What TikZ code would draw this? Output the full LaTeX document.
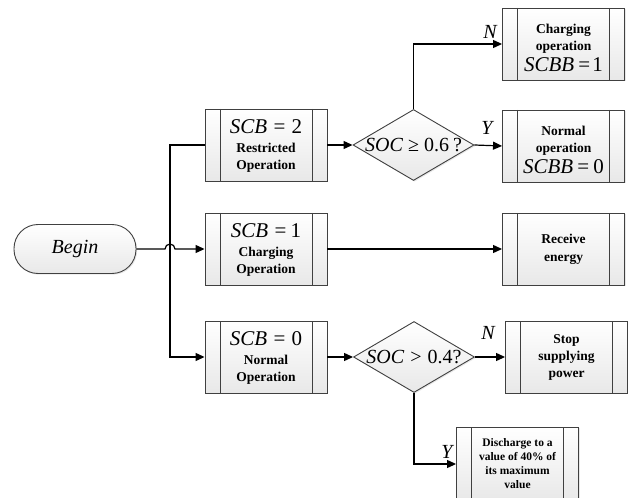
\documentclass[tikz,border=0pt]{standalone}
\usepackage{fontspec}
\setmainfont{Liberation Serif}
\usetikzlibrary{arrows.meta,shapes.geometric,shadows}
\newcommand\boldtext{\fontsize{13.5bp}{17bp}\selectfont\bfseries\lineskiplimit=-100pt\relax}
\newcommand\smalltext{\fontsize{11.5bp}{14bp}\selectfont\bfseries\lineskiplimit=-100pt\relax}
\newcommand\eqfont{\fontsize{20bp}{20bp}\selectfont}
\newcommand\eqn[1]{{\normalfont\fontsize{21bp}{21bp}\selectfont #1}}
\begin{document}
\begin{tikzpicture}[x=1bp,y=-1bp,
  boxfill/.style={top color=white,bottom color=black!9,
    drop shadow={shadow xshift=1.2bp,shadow yshift=-1.2bp,opacity=0.18}},
  proc/.style={draw=black!75,line width=0.9bp,boxfill,minimum width=122bp,
    minimum height=72bp,inner sep=0pt,
    path picture={\draw[black!75,line width=0.9bp]
      ([xshift=15bp]path picture bounding box.north west) --
      ([xshift=15bp]path picture bounding box.south west)
      ([xshift=-15bp]path picture bounding box.north east) --
      ([xshift=-15bp]path picture bounding box.south east);}},
  ptext/.style={align=center,font=\boldtext,inner sep=0pt},
  dia/.style={diamond,draw=black!75,line width=0.9bp,boxfill,
    minimum width=121bp,minimum height=71bp,inner sep=0pt,font=\eqfont},
  term/.style={draw=black!75,line width=0.9bp,boxfill,rounded corners=24bp,
    minimum width=122bp,minimum height=49bp,inner sep=0pt,font=\eqfont\itshape},
  conn/.style={line width=1.2bp,black},
  arr/.style={conn,-{Triangle[length=9bp,width=8bp]}},
  yn/.style={font=\eqfont\itshape,inner sep=0pt}]
\useasboundingbox (0,0) rectangle (628,498);
\clip (0,0) rectangle (628,498);

\node[term] (begin) at (75,249) {Begin};

\node[proc] (scb2) at (266,145) {};
\node[ptext] (scb2t) at (266,146) {\eqn{\textit{SCB}\hspace{0.3em}=\hspace{0.3em}2}\\[2bp] Restricted\\ Operation};
\node[proc] (scb1) at (266,249) {};
\node[ptext] (scb1t) at (266,250) {\eqn{\textit{SCB}\hspace{0.3em}=\hspace{0.2em}1}\\[2bp] Charging\\ Operation};
\node[proc] (scb0) at (266,357) {};
\node[ptext] (scb0t) at (266,358) {\eqn{\textit{SCB}\hspace{0.3em}=\hspace{0.3em}0}\\[2bp] Normal\\ Operation};

\node[dia] (d1) at (413.5,145) {\makebox[0pt]{\textit{SOC}\hspace{0.25em}≥\hspace{0.25em}0.6\hspace{0.2em}?}};
\node[dia] (d2) at (414,357) {\makebox[0pt]{\textit{SOC}\hspace{0.3em}>\hspace{0.3em}0.4?}};

\node[proc] (charge) at (563.5,44) {};
\node[ptext] (charget) at (563.5,48) {Charging\\ operation\\[4bp] \eqn{\textit{SCBB}\hspace{0.2em}=\hspace{0.1em}1}};
\node[proc] (normal) at (563.5,146) {};
\node[ptext] (normalt) at (563.5,150) {Normal\\ operation\\[4bp] \eqn{\textit{SCBB}\hspace{0.2em}=\hspace{0.2em}0}};
\node[proc] (receive) at (563.5,249) {};
\node[ptext] (receivet) at (563.5,249) {Receive\\[1bp] energy};
\node[proc] (stop) at (566.5,357) {};
\node[ptext] (stopt) at (566.5,357) {Stop\\ supplying\\ power};
\node[proc,minimum height=74bp] (dis) at (517.5,464) {};
\node[ptext,font=\smalltext] (dist) at (517.5,464) {Discharge to a\\ value of 40\% of\\ its maximum\\ value};

\draw[arr] (begin.east) -- (165,249) arc (180:360:5) -- (scb1.west);
\draw[arr] (scb2.west) -- (170,145) |- (scb0.west);
\draw[arr] (scb2.east) -- (d1.west);
\draw[arr] (scb1.east) -- (receive.west);
\draw[arr] (scb0.east) -- (d2.west);
\draw[arr] (d1.north) |- (charge.west);
\draw[arr] (d1.east) -- (normal.west);
\draw[arr] (d2.east) -- (stop.west);
\draw[arr] (d2.south) |- (dis.west);

\node[yn] (n1) at (490,32) {N};
\node[yn] (y1) at (487,128) {Y};
\node[yn] (n2) at (488,333) {N};
\node[yn] (y2) at (447,452) {Y};
\end{tikzpicture}
\end{document}
